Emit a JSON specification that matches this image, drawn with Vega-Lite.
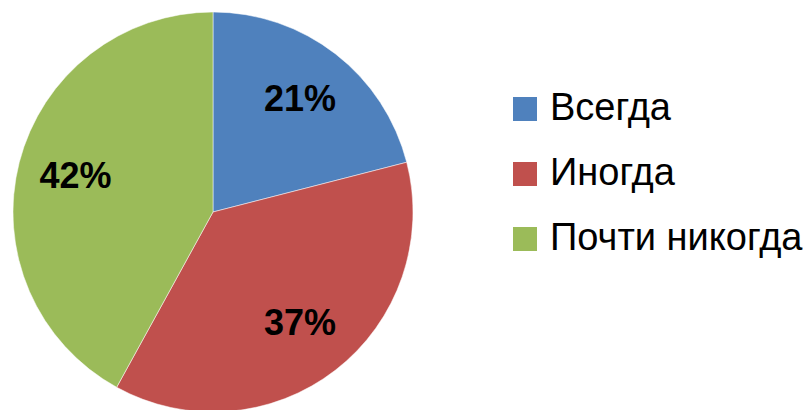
{
  "$schema": "https://vega.github.io/schema/vega-lite/v6.json",
  "width": 426,
  "height": 424,
  "padding": 0,
  "background": "white",
  "config": {"view": {"stroke": null}, "font": "Liberation Sans"},
  "data": {
    "values": [
      {"answer": "Всегда", "share": 0.21},
      {"answer": "Иногда", "share": 0.37},
      {"answer": "Почти никогда", "share": 0.42}
    ]
  },
  "encoding": {
    "theta": {"field": "share", "type": "quantitative", "stack": true}
  },
  "layer": [
    {
      "mark": {"type": "arc", "outerRadius": 200, "stroke": "white", "strokeWidth": 0.5},
      "encoding": {
        "color": {
          "field": "answer",
          "type": "nominal",
          "scale": {
            "domain": ["Всегда", "Иногда", "Почти никогда"],
            "range": ["#4F81BD", "#C0504D", "#9BBB59"]
          },
          "legend": {
            "title": null,
            "orient": "none",
            "legendX": 506,
            "legendY": 90,
            "symbolType": "square",
            "symbolSize": 576,
            "symbolStrokeWidth": 0,
            "labelFontSize": 38,
            "labelFont": "Liberation Sans",
            "labelColor": "black",
            "labelOffset": 6,
            "rowPadding": 27,
            "labelLimit": 400
          }
        }
      }
    },
    {
      "mark": {"type": "text", "radius": 142, "fontSize": 36, "fontWeight": "bold", "font": "Liberation Sans", "color": "black"},
      "encoding": {
        "detail": {"field": "answer", "type": "nominal"},
        "text": {"field": "share", "type": "quantitative", "format": ".0%"}
      }
    }
  ]
}
